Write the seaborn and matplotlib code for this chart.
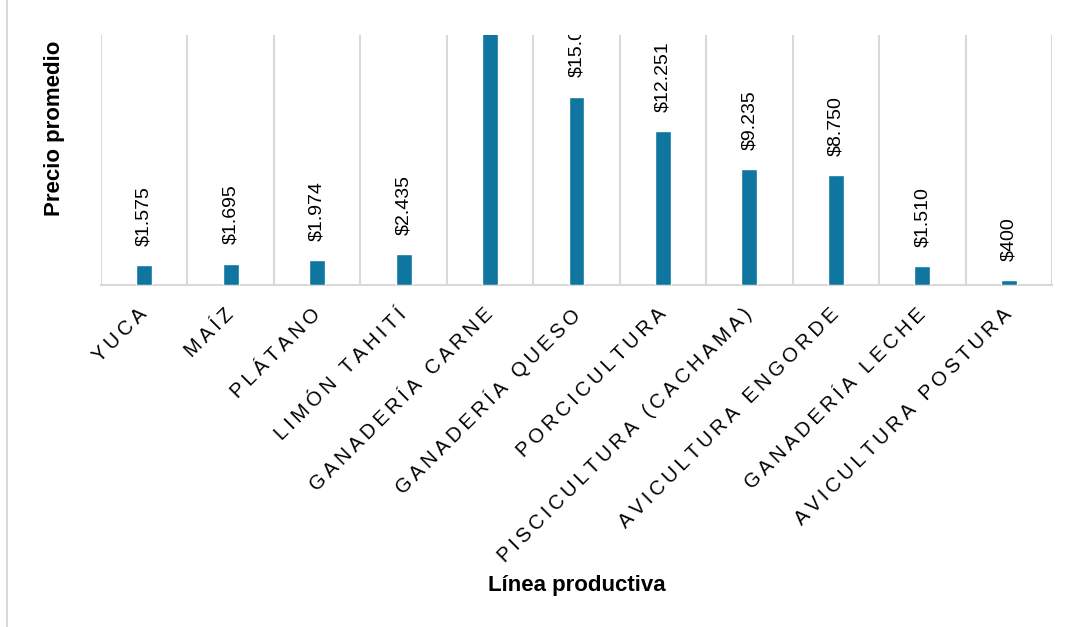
import matplotlib
matplotlib.use("Agg")
import matplotlib.pyplot as plt
import seaborn as sns
import pandas as pd
from matplotlib.lines import Line2D

categorias = ["YUCA", "MAÍZ", "PLÁTANO", "LIMÓN TAHITÍ", "GANADERÍA CARNE",
              "GANADERÍA QUESO", "PORCICULTURA", "PISCICULTURA (CACHAMA)",
              "AVICULTURA ENGORDE", "GANADERÍA LECHE", "AVICULTURA POSTURA"]
precios = [1575, 1695, 1974, 2435, 22000, 15000, 12251, 9235, 8750, 1510, 400]
etiquetas = ["$1.575", "$1.695", "$1.974", "$2.435", "$22.000", "$15.000",
             "$12.251", "$9.235", "$8.750", "$1.510", "$400"]
titulo_x = "Línea productiva"
titulo_y = "Precio promedio"

sns.set_style("white")
plt.rcParams["font.family"] = ["Liberation Sans", "DejaVu Sans"]
plt.rcParams["text.color"] = "black"
plt.rcParams["axes.labelcolor"] = "black"
plt.rcParams["xtick.color"] = "black"

df = pd.DataFrame({"cat": categorias, "precio": precios})

fig = plt.figure(figsize=(10.70, 6.27), dpi=100)
ax = fig.add_axes([101/1070, 1-285/627, 951/1070, 250/627])

sns.barplot(data=df, x="cat", y="precio", color="#0f76a0", width=0.185,
            saturation=1, ax=ax, zorder=3)

ax.set_ylim(0, 19900)
ax.set_xlim(-0.5, len(categorias)-0.5)

# vertical grid lines at category boundaries
for b in range(len(categorias)+1):
    ax.axvline(b-0.5, color="#d9d9d9", lw=1.5, zorder=1)

for s in ["top", "right", "left"]:
    ax.spines[s].set_visible(False)
ax.spines["bottom"].set_color("#d9d9d9")
ax.spines["bottom"].set_linewidth(1.5)
ax.set_yticks([])

# value labels
for i, (v, t) in enumerate(zip(precios, etiquetas)):
    ax.annotate(t, (i, v), xytext=(0, 14), textcoords="offset points",
                rotation=90, ha="center", va="bottom", fontsize=14,
                color="black", clip_on=True, annotation_clip=True)

def espaciar(s):
    return "\u2009".join(list(s))

ax.set_xticks(range(len(categorias)))
ax.set_xticklabels([espaciar(c) for c in categorias], rotation=45, ha="right",
                   va="center", rotation_mode="anchor", fontsize=14.5,
                   color="black")
ax.tick_params(axis="x", length=0, pad=19)

ax.set_xlabel(titulo_x, fontsize=16, fontweight="bold", color="black")
ax.xaxis.label.set_va("center")
ax.xaxis.set_label_coords(0.5, -1.2)
ax.set_ylabel(titulo_y, fontsize=16, fontweight="bold", color="black")
ax.yaxis.label.set_va("center")
ax.yaxis.set_label_coords(-0.0494, 0.628)

fig.add_artist(Line2D([7/1070, 7/1070], [0, 1], transform=fig.transFigure,
                      color="#d9d9d9", lw=1.5))

fig.savefig("out.png", dpi=100)
